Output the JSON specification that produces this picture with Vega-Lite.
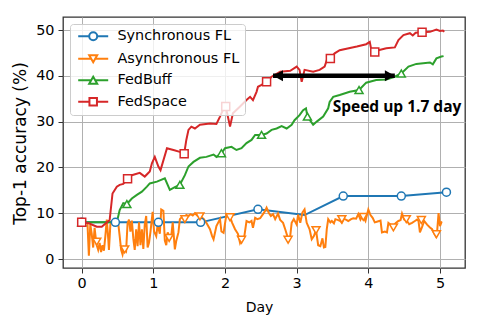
{
  "$schema": "https://vega.github.io/schema/vega-lite/v6.json",
  "width": 402,
  "height": 251,
  "autosize": "none",
  "padding": {"left": 63, "top": 17, "right": 16, "bottom": 51},
  "config": {
    "view": {"stroke": "#333", "strokeWidth": 1.3},
    "axis": {
      "grid": true, "gridColor": "#b0b0b0", "gridWidth": 1,
      "domain": false, "tickSize": 5, "tickColor": "#333", "tickWidth": 1,
      "labelFont": "DejaVu Sans", "labelFontSize": 14.4, "labelColor": "#000",
      "titleFont": "DejaVu Sans", "titleFontWeight": "normal", "titleColor": "#000",
      "labelFlush": false, "labelOverlap": false
    }
  },
  "datasets": {
    "curves": [
      {"series": "Synchronous FL", "day": 0, "acc": 8},
      {"series": "Synchronous FL", "day": 0.47, "acc": 8},
      {"series": "Synchronous FL", "day": 1.07, "acc": 8},
      {"series": "Synchronous FL", "day": 1.66, "acc": 8},
      {"series": "Synchronous FL", "day": 2.46, "acc": 10.85},
      {"series": "Synchronous FL", "day": 3.11, "acc": 9.6},
      {"series": "Synchronous FL", "day": 3.65, "acc": 13.75},
      {"series": "Synchronous FL", "day": 4.46, "acc": 13.75},
      {"series": "Synchronous FL", "day": 5.09, "acc": 14.6},

      {"series": "Asynchronous FL", "day": 0.08, "acc": 8.0},
      {"series": "Asynchronous FL", "day": 0.10, "acc": 0.7},
      {"series": "Asynchronous FL", "day": 0.12, "acc": 7.5},
      {"series": "Asynchronous FL", "day": 0.14, "acc": 5.5},
      {"series": "Asynchronous FL", "day": 0.16, "acc": 2.5},
      {"series": "Asynchronous FL", "day": 0.18, "acc": 6.8},
      {"series": "Asynchronous FL", "day": 0.20, "acc": 4.0},
      {"series": "Asynchronous FL", "day": 0.21, "acc": 3.0},
      {"series": "Asynchronous FL", "day": 0.23, "acc": 2.0},
      {"series": "Asynchronous FL", "day": 0.25, "acc": 3.5},
      {"series": "Asynchronous FL", "day": 0.27, "acc": 1.5},
      {"series": "Asynchronous FL", "day": 0.29, "acc": 3.0},
      {"series": "Asynchronous FL", "day": 0.31, "acc": 1.8},
      {"series": "Asynchronous FL", "day": 0.33, "acc": 5.0},
      {"series": "Asynchronous FL", "day": 0.35, "acc": 8.6},
      {"series": "Asynchronous FL", "day": 0.37, "acc": 4.5},
      {"series": "Asynchronous FL", "day": 0.38, "acc": 2.0},
      {"series": "Asynchronous FL", "day": 0.40, "acc": 7.5},
      {"series": "Asynchronous FL", "day": 0.42, "acc": 8.2},
      {"series": "Asynchronous FL", "day": 0.45, "acc": 8.0},
      {"series": "Asynchronous FL", "day": 0.47, "acc": 8.4},
      {"series": "Asynchronous FL", "day": 0.49, "acc": 8.0},
      {"series": "Asynchronous FL", "day": 0.51, "acc": 7.8},
      {"series": "Asynchronous FL", "day": 0.53, "acc": 5.0},
      {"series": "Asynchronous FL", "day": 0.55, "acc": 2.0},
      {"series": "Asynchronous FL", "day": 0.57, "acc": 1.0},
      {"series": "Asynchronous FL", "day": 0.59, "acc": 2.5},
      {"series": "Asynchronous FL", "day": 0.60, "acc": 2.3},
      {"series": "Asynchronous FL", "day": 0.62, "acc": 1.8},
      {"series": "Asynchronous FL", "day": 0.64, "acc": 7.8},
      {"series": "Asynchronous FL", "day": 0.66, "acc": 8.6},
      {"series": "Asynchronous FL", "day": 0.68, "acc": 6.0},
      {"series": "Asynchronous FL", "day": 0.70, "acc": 8.4},
      {"series": "Asynchronous FL", "day": 0.72, "acc": 4.5},
      {"series": "Asynchronous FL", "day": 0.74, "acc": 2.0},
      {"series": "Asynchronous FL", "day": 0.76, "acc": 6.5},
      {"series": "Asynchronous FL", "day": 0.78, "acc": 2.8},
      {"series": "Asynchronous FL", "day": 0.80, "acc": 8.0},
      {"series": "Asynchronous FL", "day": 0.82, "acc": 3.0},
      {"series": "Asynchronous FL", "day": 0.84, "acc": 6.5},
      {"series": "Asynchronous FL", "day": 0.86, "acc": 2.2},
      {"series": "Asynchronous FL", "day": 0.88, "acc": 7.5},
      {"series": "Asynchronous FL", "day": 0.90, "acc": 9.4},
      {"series": "Asynchronous FL", "day": 0.92, "acc": 2.5},
      {"series": "Asynchronous FL", "day": 0.94, "acc": 3.6},
      {"series": "Asynchronous FL", "day": 0.96, "acc": 6.0},
      {"series": "Asynchronous FL", "day": 0.99, "acc": 10.3},
      {"series": "Asynchronous FL", "day": 1.01, "acc": 6.0},
      {"series": "Asynchronous FL", "day": 1.04, "acc": 5.0},
      {"series": "Asynchronous FL", "day": 1.06, "acc": 7.5},
      {"series": "Asynchronous FL", "day": 1.09, "acc": 5.5},
      {"series": "Asynchronous FL", "day": 1.11, "acc": 10.8},
      {"series": "Asynchronous FL", "day": 1.14, "acc": 10.5},
      {"series": "Asynchronous FL", "day": 1.16, "acc": 4.0},
      {"series": "Asynchronous FL", "day": 1.18, "acc": 3.0},
      {"series": "Asynchronous FL", "day": 1.20, "acc": 5.8},
      {"series": "Asynchronous FL", "day": 1.23, "acc": 4.5},
      {"series": "Asynchronous FL", "day": 1.25, "acc": 5.0},
      {"series": "Asynchronous FL", "day": 1.27, "acc": 8.0},
      {"series": "Asynchronous FL", "day": 1.30, "acc": 2.1},
      {"series": "Asynchronous FL", "day": 1.32, "acc": 4.0},
      {"series": "Asynchronous FL", "day": 1.35, "acc": 5.8},
      {"series": "Asynchronous FL", "day": 1.37, "acc": 8.7},
      {"series": "Asynchronous FL", "day": 1.40, "acc": 9.2},
      {"series": "Asynchronous FL", "day": 1.43, "acc": 9.0},
      {"series": "Asynchronous FL", "day": 1.46, "acc": 9.6},
      {"series": "Asynchronous FL", "day": 1.49, "acc": 9.4},
      {"series": "Asynchronous FL", "day": 1.52, "acc": 9.8},
      {"series": "Asynchronous FL", "day": 1.55, "acc": 9.5},
      {"series": "Asynchronous FL", "day": 1.58, "acc": 10.0},
      {"series": "Asynchronous FL", "day": 1.62, "acc": 9.4},
      {"series": "Asynchronous FL", "day": 1.65, "acc": 9.6},
      {"series": "Asynchronous FL", "day": 1.68, "acc": 9.0},
      {"series": "Asynchronous FL", "day": 1.70, "acc": 8.8},
      {"series": "Asynchronous FL", "day": 1.74, "acc": 7.9},
      {"series": "Asynchronous FL", "day": 1.79, "acc": 6.5},
      {"series": "Asynchronous FL", "day": 1.82, "acc": 5.0},
      {"series": "Asynchronous FL", "day": 1.84, "acc": 4.3},
      {"series": "Asynchronous FL", "day": 1.88, "acc": 7.2},
      {"series": "Asynchronous FL", "day": 1.93, "acc": 8.7},
      {"series": "Asynchronous FL", "day": 1.95, "acc": 6.0},
      {"series": "Asynchronous FL", "day": 1.98, "acc": 5.7},
      {"series": "Asynchronous FL", "day": 2.02, "acc": 9.8},
      {"series": "Asynchronous FL", "day": 2.05, "acc": 9.4},
      {"series": "Asynchronous FL", "day": 2.07, "acc": 9.2},
      {"series": "Asynchronous FL", "day": 2.10, "acc": 7.9},
      {"series": "Asynchronous FL", "day": 2.14, "acc": 6.5},
      {"series": "Asynchronous FL", "day": 2.18, "acc": 5.5},
      {"series": "Asynchronous FL", "day": 2.21, "acc": 3.5},
      {"series": "Asynchronous FL", "day": 2.24, "acc": 4.5},
      {"series": "Asynchronous FL", "day": 2.27, "acc": 5.0},
      {"series": "Asynchronous FL", "day": 2.30, "acc": 8.3},
      {"series": "Asynchronous FL", "day": 2.34, "acc": 8.0},
      {"series": "Asynchronous FL", "day": 2.37, "acc": 8.3},
      {"series": "Asynchronous FL", "day": 2.39, "acc": 6.8},
      {"series": "Asynchronous FL", "day": 2.42, "acc": 9.0},
      {"series": "Asynchronous FL", "day": 2.45, "acc": 8.7},
      {"series": "Asynchronous FL", "day": 2.49, "acc": 8.9},
      {"series": "Asynchronous FL", "day": 2.53, "acc": 9.8},
      {"series": "Asynchronous FL", "day": 2.56, "acc": 10.5},
      {"series": "Asynchronous FL", "day": 2.58, "acc": 11.2},
      {"series": "Asynchronous FL", "day": 2.61, "acc": 10.1},
      {"series": "Asynchronous FL", "day": 2.64, "acc": 9.4},
      {"series": "Asynchronous FL", "day": 2.67, "acc": 9.8},
      {"series": "Asynchronous FL", "day": 2.70, "acc": 8.7},
      {"series": "Asynchronous FL", "day": 2.74, "acc": 9.9},
      {"series": "Asynchronous FL", "day": 2.77, "acc": 8.5},
      {"series": "Asynchronous FL", "day": 2.81, "acc": 7.9},
      {"series": "Asynchronous FL", "day": 2.84, "acc": 6.5},
      {"series": "Asynchronous FL", "day": 2.87, "acc": 5.0},
      {"series": "Asynchronous FL", "day": 2.88, "acc": 3.6},
      {"series": "Asynchronous FL", "day": 2.91, "acc": 5.0},
      {"series": "Asynchronous FL", "day": 2.93, "acc": 7.9},
      {"series": "Asynchronous FL", "day": 2.96, "acc": 8.7},
      {"series": "Asynchronous FL", "day": 3.00, "acc": 7.5},
      {"series": "Asynchronous FL", "day": 3.02, "acc": 9.7},
      {"series": "Asynchronous FL", "day": 3.05, "acc": 7.9},
      {"series": "Asynchronous FL", "day": 3.08, "acc": 10.1},
      {"series": "Asynchronous FL", "day": 3.11, "acc": 10.8},
      {"series": "Asynchronous FL", "day": 3.14, "acc": 7.9},
      {"series": "Asynchronous FL", "day": 3.18, "acc": 6.5},
      {"series": "Asynchronous FL", "day": 3.21, "acc": 4.3},
      {"series": "Asynchronous FL", "day": 3.24, "acc": 5.0},
      {"series": "Asynchronous FL", "day": 3.27, "acc": 6.3},
      {"series": "Asynchronous FL", "day": 3.30, "acc": 3.0},
      {"series": "Asynchronous FL", "day": 3.33, "acc": 2.8},
      {"series": "Asynchronous FL", "day": 3.36, "acc": 4.5},
      {"series": "Asynchronous FL", "day": 3.38, "acc": 2.5},
      {"series": "Asynchronous FL", "day": 3.40, "acc": 2.6},
      {"series": "Asynchronous FL", "day": 3.42, "acc": 6.5},
      {"series": "Asynchronous FL", "day": 3.44, "acc": 8.7},
      {"series": "Asynchronous FL", "day": 3.47, "acc": 8.0},
      {"series": "Asynchronous FL", "day": 3.49, "acc": 8.3},
      {"series": "Asynchronous FL", "day": 3.52, "acc": 7.8},
      {"series": "Asynchronous FL", "day": 3.54, "acc": 8.7},
      {"series": "Asynchronous FL", "day": 3.58, "acc": 8.5},
      {"series": "Asynchronous FL", "day": 3.61, "acc": 8.3},
      {"series": "Asynchronous FL", "day": 3.63, "acc": 7.9},
      {"series": "Asynchronous FL", "day": 3.66, "acc": 8.8},
      {"series": "Asynchronous FL", "day": 3.70, "acc": 8.5},
      {"series": "Asynchronous FL", "day": 3.72, "acc": 8.3},
      {"series": "Asynchronous FL", "day": 3.76, "acc": 8.7},
      {"series": "Asynchronous FL", "day": 3.79, "acc": 8.9},
      {"series": "Asynchronous FL", "day": 3.83, "acc": 8.8},
      {"series": "Asynchronous FL", "day": 3.86, "acc": 9.8},
      {"series": "Asynchronous FL", "day": 3.89, "acc": 8.6},
      {"series": "Asynchronous FL", "day": 3.92, "acc": 9.5},
      {"series": "Asynchronous FL", "day": 3.96, "acc": 8.3},
      {"series": "Asynchronous FL", "day": 4.00, "acc": 10.8},
      {"series": "Asynchronous FL", "day": 4.03, "acc": 9.6},
      {"series": "Asynchronous FL", "day": 4.06, "acc": 9.0},
      {"series": "Asynchronous FL", "day": 4.09, "acc": 8.0},
      {"series": "Asynchronous FL", "day": 4.13, "acc": 8.2},
      {"series": "Asynchronous FL", "day": 4.17, "acc": 8.4},
      {"series": "Asynchronous FL", "day": 4.19, "acc": 5.8},
      {"series": "Asynchronous FL", "day": 4.23, "acc": 6.0},
      {"series": "Asynchronous FL", "day": 4.26, "acc": 5.8},
      {"series": "Asynchronous FL", "day": 4.28, "acc": 7.9},
      {"series": "Asynchronous FL", "day": 4.31, "acc": 7.5},
      {"series": "Asynchronous FL", "day": 4.35, "acc": 7.2},
      {"series": "Asynchronous FL", "day": 4.38, "acc": 7.8},
      {"series": "Asynchronous FL", "day": 4.42, "acc": 8.3},
      {"series": "Asynchronous FL", "day": 4.45, "acc": 8.5},
      {"series": "Asynchronous FL", "day": 4.47, "acc": 9.9},
      {"series": "Asynchronous FL", "day": 4.50, "acc": 8.6},
      {"series": "Asynchronous FL", "day": 4.54, "acc": 8.3},
      {"series": "Asynchronous FL", "day": 4.57, "acc": 7.6},
      {"series": "Asynchronous FL", "day": 4.61, "acc": 7.9},
      {"series": "Asynchronous FL", "day": 4.65, "acc": 8.3},
      {"series": "Asynchronous FL", "day": 4.68, "acc": 8.6},
      {"series": "Asynchronous FL", "day": 4.70, "acc": 8.3},
      {"series": "Asynchronous FL", "day": 4.72, "acc": 5.8},
      {"series": "Asynchronous FL", "day": 4.75, "acc": 7.0},
      {"series": "Asynchronous FL", "day": 4.78, "acc": 8.3},
      {"series": "Asynchronous FL", "day": 4.82, "acc": 7.5},
      {"series": "Asynchronous FL", "day": 4.86, "acc": 6.9},
      {"series": "Asynchronous FL", "day": 4.89, "acc": 6.5},
      {"series": "Asynchronous FL", "day": 4.92, "acc": 5.5},
      {"series": "Asynchronous FL", "day": 4.94, "acc": 5.0},
      {"series": "Asynchronous FL", "day": 4.96, "acc": 6.0},
      {"series": "Asynchronous FL", "day": 4.98, "acc": 10.0},
      {"series": "Asynchronous FL", "day": 5.00, "acc": 7.2},
      {"series": "Asynchronous FL", "day": 5.02, "acc": 8.0},
      {"series": "Asynchronous FL", "day": 5.03, "acc": 7.9},

      {"series": "FedBuff", "day": 0, "acc": 8},
      {"series": "FedBuff", "day": 0.25, "acc": 8},
      {"series": "FedBuff", "day": 0.49, "acc": 8},
      {"series": "FedBuff", "day": 0.53, "acc": 10.7},
      {"series": "FedBuff", "day": 0.58, "acc": 12.2},
      {"series": "FedBuff", "day": 0.63, "acc": 12.0},
      {"series": "FedBuff", "day": 0.70, "acc": 13.2},
      {"series": "FedBuff", "day": 0.77, "acc": 14.0},
      {"series": "FedBuff", "day": 0.84, "acc": 14.7},
      {"series": "FedBuff", "day": 0.91, "acc": 15.8},
      {"series": "FedBuff", "day": 0.95, "acc": 16.5},
      {"series": "FedBuff", "day": 1.05, "acc": 16.9},
      {"series": "FedBuff", "day": 1.16, "acc": 17.6},
      {"series": "FedBuff", "day": 1.23, "acc": 15.1},
      {"series": "FedBuff", "day": 1.30, "acc": 15.7},
      {"series": "FedBuff", "day": 1.37, "acc": 16.2},
      {"series": "FedBuff", "day": 1.44, "acc": 18.3},
      {"series": "FedBuff", "day": 1.49, "acc": 20.2},
      {"series": "FedBuff", "day": 1.56, "acc": 21.2},
      {"series": "FedBuff", "day": 1.65, "acc": 22.1},
      {"series": "FedBuff", "day": 1.74, "acc": 22.3},
      {"series": "FedBuff", "day": 1.84, "acc": 22.8},
      {"series": "FedBuff", "day": 1.88, "acc": 22.3},
      {"series": "FedBuff", "day": 1.95, "acc": 23.1},
      {"series": "FedBuff", "day": 2.00, "acc": 24.2},
      {"series": "FedBuff", "day": 2.09, "acc": 24.5},
      {"series": "FedBuff", "day": 2.16, "acc": 23.8},
      {"series": "FedBuff", "day": 2.23, "acc": 24.2},
      {"series": "FedBuff", "day": 2.30, "acc": 25.3},
      {"series": "FedBuff", "day": 2.37, "acc": 26.0},
      {"series": "FedBuff", "day": 2.42, "acc": 27.1},
      {"series": "FedBuff", "day": 2.51, "acc": 27.1},
      {"series": "FedBuff", "day": 2.58, "acc": 27.4},
      {"series": "FedBuff", "day": 2.65, "acc": 28.2},
      {"series": "FedBuff", "day": 2.72, "acc": 28.5},
      {"series": "FedBuff", "day": 2.79, "acc": 29.0},
      {"series": "FedBuff", "day": 2.86, "acc": 28.5},
      {"series": "FedBuff", "day": 2.93, "acc": 29.3},
      {"series": "FedBuff", "day": 2.97, "acc": 30.3},
      {"series": "FedBuff", "day": 3.04, "acc": 31.4},
      {"series": "FedBuff", "day": 3.09, "acc": 32.5},
      {"series": "FedBuff", "day": 3.13, "acc": 32.9},
      {"series": "FedBuff", "day": 3.15, "acc": 31.1},
      {"series": "FedBuff", "day": 3.23, "acc": 29.3},
      {"series": "FedBuff", "day": 3.28, "acc": 30.0},
      {"series": "FedBuff", "day": 3.37, "acc": 31.1},
      {"series": "FedBuff", "day": 3.44, "acc": 32.9},
      {"series": "FedBuff", "day": 3.46, "acc": 34.3},
      {"series": "FedBuff", "day": 3.51, "acc": 35.4},
      {"series": "FedBuff", "day": 3.60, "acc": 35.8},
      {"series": "FedBuff", "day": 3.74, "acc": 36.5},
      {"series": "FedBuff", "day": 3.87, "acc": 36.9},
      {"series": "FedBuff", "day": 3.97, "acc": 38.5},
      {"series": "FedBuff", "day": 4.11, "acc": 39.1},
      {"series": "FedBuff", "day": 4.25, "acc": 39.2},
      {"series": "FedBuff", "day": 4.37, "acc": 39.8},
      {"series": "FedBuff", "day": 4.46, "acc": 40.5},
      {"series": "FedBuff", "day": 4.56, "acc": 42.0},
      {"series": "FedBuff", "day": 4.67, "acc": 42.6},
      {"series": "FedBuff", "day": 4.86, "acc": 42.9},
      {"series": "FedBuff", "day": 4.90, "acc": 42.5},
      {"series": "FedBuff", "day": 4.95, "acc": 43.8},
      {"series": "FedBuff", "day": 5.02, "acc": 44.2},
      {"series": "FedBuff", "day": 5.05, "acc": 44.3},

      {"series": "FedSpace", "day": 0, "acc": 8},
      {"series": "FedSpace", "day": 0.10, "acc": 7.8},
      {"series": "FedSpace", "day": 0.21, "acc": 7.05},
      {"series": "FedSpace", "day": 0.28, "acc": 7.05},
      {"series": "FedSpace", "day": 0.39, "acc": 8.5},
      {"series": "FedSpace", "day": 0.43, "acc": 14.3},
      {"series": "FedSpace", "day": 0.49, "acc": 15.8},
      {"series": "FedSpace", "day": 0.53, "acc": 16.2},
      {"series": "FedSpace", "day": 0.58, "acc": 16.4},
      {"series": "FedSpace", "day": 0.64, "acc": 17.5},
      {"series": "FedSpace", "day": 0.70, "acc": 18.3},
      {"series": "FedSpace", "day": 0.81, "acc": 18.8},
      {"series": "FedSpace", "day": 0.88, "acc": 18.0},
      {"series": "FedSpace", "day": 0.95, "acc": 19.1},
      {"series": "FedSpace", "day": 0.98, "acc": 20.9},
      {"series": "FedSpace", "day": 1.02, "acc": 22.3},
      {"series": "FedSpace", "day": 1.07, "acc": 20.2},
      {"series": "FedSpace", "day": 1.10, "acc": 19.4},
      {"series": "FedSpace", "day": 1.19, "acc": 24.2},
      {"series": "FedSpace", "day": 1.28, "acc": 23.8},
      {"series": "FedSpace", "day": 1.37, "acc": 23.4},
      {"series": "FedSpace", "day": 1.43, "acc": 23.0},
      {"series": "FedSpace", "day": 1.46, "acc": 26.0},
      {"series": "FedSpace", "day": 1.49, "acc": 28.2},
      {"series": "FedSpace", "day": 1.53, "acc": 28.9},
      {"series": "FedSpace", "day": 1.58, "acc": 28.5},
      {"series": "FedSpace", "day": 1.65, "acc": 29.3},
      {"series": "FedSpace", "day": 1.79, "acc": 29.6},
      {"series": "FedSpace", "day": 1.88, "acc": 29.5},
      {"series": "FedSpace", "day": 1.93, "acc": 31.1},
      {"series": "FedSpace", "day": 1.97, "acc": 32.5},
      {"series": "FedSpace", "day": 2.01, "acc": 33.3},
      {"series": "FedSpace", "day": 2.07, "acc": 28.9},
      {"series": "FedSpace", "day": 2.11, "acc": 31.8},
      {"series": "FedSpace", "day": 2.21, "acc": 33.3},
      {"series": "FedSpace", "day": 2.30, "acc": 34.7},
      {"series": "FedSpace", "day": 2.35, "acc": 35.4},
      {"series": "FedSpace", "day": 2.39, "acc": 34.7},
      {"series": "FedSpace", "day": 2.44, "acc": 36.5},
      {"series": "FedSpace", "day": 2.46, "acc": 37.6},
      {"series": "FedSpace", "day": 2.51, "acc": 38.0},
      {"series": "FedSpace", "day": 2.58, "acc": 38.7},
      {"series": "FedSpace", "day": 2.65, "acc": 39.8},
      {"series": "FedSpace", "day": 2.77, "acc": 40.9},
      {"series": "FedSpace", "day": 2.91, "acc": 41.1},
      {"series": "FedSpace", "day": 3.00, "acc": 42.0},
      {"series": "FedSpace", "day": 3.04, "acc": 41.3},
      {"series": "FedSpace", "day": 3.07, "acc": 38.7},
      {"series": "FedSpace", "day": 3.11, "acc": 41.3},
      {"series": "FedSpace", "day": 3.23, "acc": 40.9},
      {"series": "FedSpace", "day": 3.32, "acc": 41.3},
      {"series": "FedSpace", "day": 3.39, "acc": 42.0},
      {"series": "FedSpace", "day": 3.42, "acc": 43.4},
      {"series": "FedSpace", "day": 3.47, "acc": 43.8},
      {"series": "FedSpace", "day": 3.53, "acc": 44.9},
      {"series": "FedSpace", "day": 3.60, "acc": 45.6},
      {"series": "FedSpace", "day": 3.84, "acc": 46.4},
      {"series": "FedSpace", "day": 3.97, "acc": 46.9},
      {"series": "FedSpace", "day": 4.02, "acc": 47.4},
      {"series": "FedSpace", "day": 4.05, "acc": 45.0},
      {"series": "FedSpace", "day": 4.09, "acc": 45.3},
      {"series": "FedSpace", "day": 4.14, "acc": 45.6},
      {"series": "FedSpace", "day": 4.25, "acc": 46.0},
      {"series": "FedSpace", "day": 4.37, "acc": 46.2},
      {"series": "FedSpace", "day": 4.42, "acc": 47.8},
      {"series": "FedSpace", "day": 4.49, "acc": 48.9},
      {"series": "FedSpace", "day": 4.58, "acc": 49.3},
      {"series": "FedSpace", "day": 4.62, "acc": 48.8},
      {"series": "FedSpace", "day": 4.66, "acc": 49.4},
      {"series": "FedSpace", "day": 4.75, "acc": 49.5},
      {"series": "FedSpace", "day": 4.86, "acc": 49.6},
      {"series": "FedSpace", "day": 4.95, "acc": 50.1},
      {"series": "FedSpace", "day": 5.00, "acc": 49.8},
      {"series": "FedSpace", "day": 5.04, "acc": 49.9},
      {"series": "FedSpace", "day": 5.06, "acc": 49.6}
    ],
    "markers": [
      {"series": "Synchronous FL", "day": 0, "acc": 8},
      {"series": "Synchronous FL", "day": 0.47, "acc": 8},
      {"series": "Synchronous FL", "day": 1.07, "acc": 8},
      {"series": "Synchronous FL", "day": 1.66, "acc": 8},
      {"series": "Synchronous FL", "day": 2.46, "acc": 10.85},
      {"series": "Synchronous FL", "day": 3.65, "acc": 13.75},
      {"series": "Synchronous FL", "day": 4.46, "acc": 13.75},
      {"series": "Synchronous FL", "day": 5.09, "acc": 14.6},
      {"series": "Asynchronous FL", "day": 0.21, "acc": 3.8},
      {"series": "Asynchronous FL", "day": 0.60, "acc": 2.1},
      {"series": "Asynchronous FL", "day": 1.22, "acc": 4.6},
      {"series": "Asynchronous FL", "day": 1.44, "acc": 8.7},
      {"series": "Asynchronous FL", "day": 1.65, "acc": 9.3},
      {"series": "Asynchronous FL", "day": 2.07, "acc": 9.1},
      {"series": "Asynchronous FL", "day": 2.23, "acc": 4.2},
      {"series": "Asynchronous FL", "day": 2.88, "acc": 4.2},
      {"series": "Asynchronous FL", "day": 3.27, "acc": 6.3},
      {"series": "Asynchronous FL", "day": 3.63, "acc": 8.7},
      {"series": "Asynchronous FL", "day": 3.93, "acc": 9.2},
      {"series": "Asynchronous FL", "day": 4.35, "acc": 6.9},
      {"series": "Asynchronous FL", "day": 4.53, "acc": 8.7},
      {"series": "Asynchronous FL", "day": 4.74, "acc": 8.5},
      {"series": "Asynchronous FL", "day": 4.95, "acc": 5.4},
      {"series": "FedBuff", "day": 0, "acc": 8},
      {"series": "FedBuff", "day": 0.63, "acc": 12.0},
      {"series": "FedBuff", "day": 1.37, "acc": 16.2},
      {"series": "FedBuff", "day": 1.95, "acc": 23.1},
      {"series": "FedBuff", "day": 2.51, "acc": 27.1},
      {"series": "FedBuff", "day": 3.15, "acc": 31.1},
      {"series": "FedBuff", "day": 3.87, "acc": 36.9},
      {"series": "FedBuff", "day": 4.46, "acc": 40.5},
      {"series": "FedSpace", "day": 0, "acc": 8},
      {"series": "FedSpace", "day": 0.64, "acc": 17.5},
      {"series": "FedSpace", "day": 1.43, "acc": 23.0},
      {"series": "FedSpace", "day": 2.01, "acc": 33.3},
      {"series": "FedSpace", "day": 2.58, "acc": 38.7},
      {"series": "FedSpace", "day": 3.47, "acc": 43.8},
      {"series": "FedSpace", "day": 4.09, "acc": 45.2},
      {"series": "FedSpace", "day": 4.75, "acc": 49.5}
    ],
    "arrow": [{"day": 2.67, "end": 4.37, "acc": 40}],
    "note": [{"day": 4.40, "acc": 32.1, "label": "Speed up 1.7 day"}]
  },
  "encoding": {
    "x": {
      "field": "day", "type": "quantitative", "title": "Day",
      "scale": {"domain": [-0.261, 5.349], "nice": false, "zero": false},
      "axis": {"values": [0, 1, 2, 3, 4, 5], "labelPadding": 3, "titleFontSize": 14, "titleX": 196, "titleY": 39, "titleBaseline": "middle", "titleAlign": "center"}
    },
    "y": {
      "field": "acc", "type": "quantitative", "title": "Top-1 accuracy (%)",
      "scale": {"domain": [-1.965, 52.84], "nice": false, "zero": false},
      "axis": {"values": [0, 10, 20, 30, 40, 50], "labelPadding": 4, "titleFontSize": 17, "titleX": -43, "titleY": 126, "titleAngle": -90, "titleBaseline": "middle", "titleAlign": "center"}
    }
  },
  "resolve": {"scale": {"color": "independent", "shape": "independent"}},
  "layer": [
    {
      "data": {"name": "curves"},
      "mark": {"type": "line", "strokeWidth": 2, "clip": true},
      "encoding": {
        "color": {"field": "series", "type": "nominal", "legend": null,
          "scale": {"domain": ["Synchronous FL", "Asynchronous FL", "FedBuff", "FedSpace"], "range": ["#1f77b4", "#ff7f0e", "#2ca02c", "#d62728"]}}
      }
    },
    {
      "data": {"name": "markers"},
      "mark": {"type": "point", "filled": false, "fill": "white", "strokeWidth": 1.5, "size": 64, "opacity": 1, "clip": true},
      "encoding": {
        "color": {"field": "series", "type": "nominal", "legend": null,
          "scale": {"domain": ["Synchronous FL", "Asynchronous FL", "FedBuff", "FedSpace"], "range": ["#1f77b4", "#ff7f0e", "#2ca02c", "#d62728"]}},
        "shape": {"field": "series", "type": "nominal", "legend": null,
          "scale": {"domain": ["Synchronous FL", "Asynchronous FL", "FedBuff", "FedSpace"], "range": ["circle", "triangle-down", "triangle-up", "square"]}}
      }
    },
    {
      "data": {"name": "arrow"},
      "mark": {"type": "rule", "strokeWidth": 4.5, "color": "black"},
      "encoding": {"x2": {"field": "end"}}
    },
    {
      "data": {"name": "arrow"},
      "mark": {"type": "point", "filled": true, "color": "black", "opacity": 1, "size": 400, "shape": "M0,0L1,-0.55L1,0.55Z"},
      "encoding": {}
    },
    {
      "data": {"name": "arrow"},
      "mark": {"type": "point", "filled": true, "color": "black", "opacity": 1, "size": 400, "shape": "M0,0L-1,-0.55L-1,0.55Z"},
      "encoding": {
        "x": {"field": "end", "type": "quantitative", "title": "Day", "scale": {"domain": [-0.261, 5.349], "nice": false, "zero": false}}
      }
    },
    {
      "data": {"name": "note"},
      "mark": {"type": "text", "font": "Open Sans", "fontWeight": "bold", "fontSize": 15.5, "align": "center", "baseline": "alphabetic", "color": "black"},
      "encoding": {"text": {"field": "label"}}
    },
    {
      "data": {"name": "markers"},
      "transform": [{"filter": "datum.acc < -50"}],
      "mark": {"type": "point", "filled": false, "fill": "white", "strokeWidth": 2, "size": 100, "opacity": 1},
      "encoding": {
        "color": {"field": "series", "type": "nominal",
          "scale": {"domain": ["Synchronous FL", "Asynchronous FL", "FedBuff", "FedSpace"], "range": ["#1f77b4", "#ff7f0e", "#2ca02c", "#d62728"]},
          "legend": {"title": null, "orient": "top-left", "offset": 7, "padding": 5, "strokeColor": "#cccccc", "fillColor": "rgba(255,255,255,0.8)", "cornerRadius": 3, "labelFont": "DejaVu Sans", "labelFontSize": 14.4, "labelColor": "#000", "symbolSize": 100, "symbolStrokeWidth": 2, "symbolFillColor": "white", "symbolOffset": 11, "labelOffset": 17, "rowPadding": 5.5}},
        "shape": {"field": "series", "type": "nominal",
          "scale": {"domain": ["Synchronous FL", "Asynchronous FL", "FedBuff", "FedSpace"], "range": [
            "M-3,0H-0.8M0.8,0H3M0.8,0A0.8,0.8,0,1,1,-0.8,0A0.8,0.8,0,1,1,0.8,0Z",
            "M-3,0H-0.4M0.4,0H3M-0.8,-0.7L0.8,-0.7L0,0.7Z",
            "M-3,0H-0.4M0.4,0H3M-0.8,0.7L0.8,0.7L0,-0.7Z",
            "M-3,0H-0.75M0.75,0H3M-0.75,-0.75H0.75V0.75H-0.75Z"]},
          "legend": {"title": null, "orient": "top-left", "offset": 7, "padding": 5, "strokeColor": "#cccccc", "fillColor": "rgba(255,255,255,0.8)", "cornerRadius": 3, "labelFont": "DejaVu Sans", "labelFontSize": 14.4, "labelColor": "#000", "symbolSize": 100, "symbolStrokeWidth": 2, "symbolFillColor": "white", "symbolOffset": 11, "labelOffset": 17, "rowPadding": 5.5}}
      }
    }
  ]
}
